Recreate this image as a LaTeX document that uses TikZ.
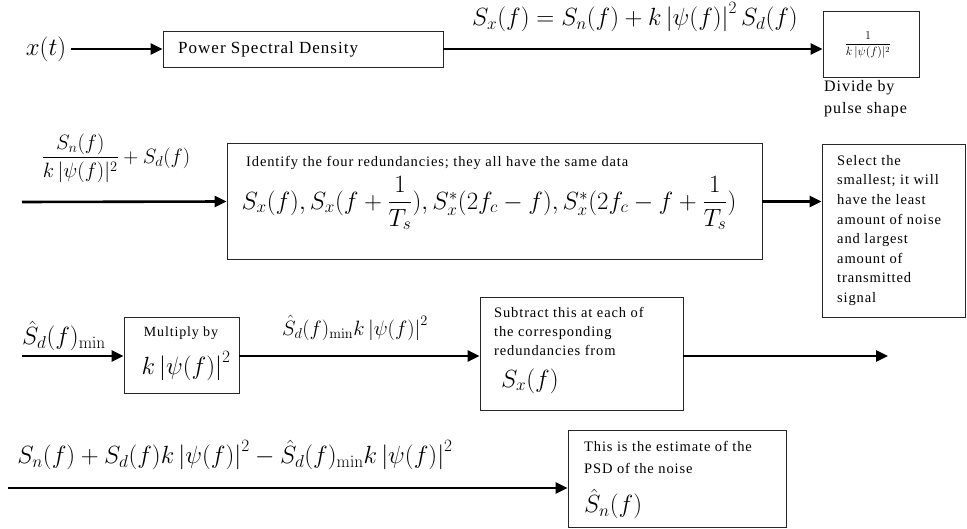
\documentclass[tikz,border=0pt]{standalone}
\usepackage{amsmath}
\usepackage[no-math]{fontspec}
\setmainfont{Liberation Serif}[LetterSpace=6]
\usetikzlibrary{arrows.meta}
\tikzset{
  box/.style={draw=black!85, line width=0.9pt, rectangle, inner sep=0pt},
  flow/.style={line width=2.6pt, -{Triangle[length=12pt,width=11pt]}},
  txt/.style={inner sep=0pt, align=left},
  fsz/.style 2 args={font={\fontsize{#1}{#2}\selectfont}},
}
\newcommand{\mn}{\mathrm{min}}
\begin{document}
\begin{tikzpicture}[x=1pt,y=-1pt]
\useasboundingbox (0,0) rectangle (967,529);
% Row 1
\node[txt, fsz={23}{23}] (xt) at (46,49) {$x(t)$};
\node[box, minimum width=280pt, minimum height=36pt] (psd) at (303,49) {};
\node[txt, anchor=west, fsz={17}{17}] (psdt) at (178,49) {Power Spectral Density};
\node[box, minimum width=96pt, minimum height=66pt] (div) at (871,44) {};
\node[txt, fsz={11.5}{11.5}] (divt) at (868,45) {$\displaystyle\frac{1}{k\,|\psi(f)|^2}$};
\node[txt, anchor=north west, fsz={16}{22}] (divl) at (824,80) {Divide by\\pulse shape};
\node[txt, fsz={26}{26}] (eq1) at (635,17) {$S_x(f)=S_n(f)+k\left|\psi(f)\right|^2S_d(f)$};
\draw[flow] (xt.east) ++(5,0) -- (psd.west);
\draw[flow] (psd.east) -- (psd.east -| div.west);
% Row 2
\node[txt, fsz={20}{20}] (fr) at (116,158) {$\displaystyle\frac{S_n(f)}{k\,|\psi(f)|^2}+S_d(f)$};
\coordinate (a2) at (22,202);
\node[box, minimum width=535pt, minimum height=116pt] (red) at (494.5,201.5) {};
\node[txt, anchor=west, fsz={14.5}{14.5}] (redt) at (246,163) {Identify the four redundancies; they all have the same data};
\node[txt, fsz={24.5}{24.5}] (redf) at (489,203) {$S_x(f), S_x(f+\dfrac{1}{T_s}), S^*_x(2f_c-f), S^*_x(2f_c-f+\dfrac{1}{T_s})$};
\node[box, minimum width=143pt, minimum height=173pt] (sel) at (893.5,230.5) {};
\node[txt, anchor=north west, fsz={14.5}{19.6}] (selt) at (837,155) {Select the\\smallest; it will\\have the least\\amount of noise\\and largest\\amount of\\transmitted\\signal};
\draw[flow] (a2) -- (red.west);
\draw[flow] (red.east) -- (red.east -| sel.west);
% Row 3
\node[txt, fsz={26}{26}] (sd) at (64,336) {$\hat{S}_d(f)_{\mn}$};
\coordinate (a3) at (22,356);
\node[box, minimum width=115pt, minimum height=76pt] (mul) at (181.5,355) {};
\node[txt, fsz={14}{14}] (mult) at (181,333) {Multiply by};
\node[txt, fsz={23}{23}] (mulf) at (186,366) {$k\left|\psi(f)\right|^2$};
\node[txt, fsz={21.5}{21.5}] (sdk) at (355,328) {$\hat{S}_d(f)_{\mn}k\left|\psi(f)\right|^2$};
\node[box, minimum width=203pt, minimum height=113pt] (sub) at (581.5,353.5) {};
\node[txt, anchor=north west, fsz={14.5}{19}] (subt) at (494,307) {Subtract this at each of\\the corresponding\\redundancies from};
\node[txt, anchor=west, fsz={25}{25}] (subf) at (501,381) {$S_x(f)$};
\coordinate (e3) at (888,356);
\draw[flow] (a3) -- (mul.west |- a3);
\draw[flow] (mul.east |- a3) -- (sub.west |- a3);
\draw[flow] (sub.east |- a3) -- (e3);
% Row 4
\node[txt, fsz={26}{26}] (res) at (235,455) {$S_n(f)+S_d(f)k\left|\psi(f)\right|^2-\hat{S}_d(f)_{\mn}k\left|\psi(f)\right|^2$};
\coordinate (a4) at (8,488);
\node[box, minimum width=218pt, minimum height=97pt] (est) at (677,478.5) {};
\node[txt, anchor=north west, fsz={14.5}{22}] (estt) at (584,441) {This is the estimate of the\\PSD of the noise};
\node[txt, anchor=west, fsz={26}{26}] (estf) at (584,504) {$\hat{S}_n(f)$};
\draw[flow] (a4) -- (a4 -| est.west);
\end{tikzpicture}
\end{document}
